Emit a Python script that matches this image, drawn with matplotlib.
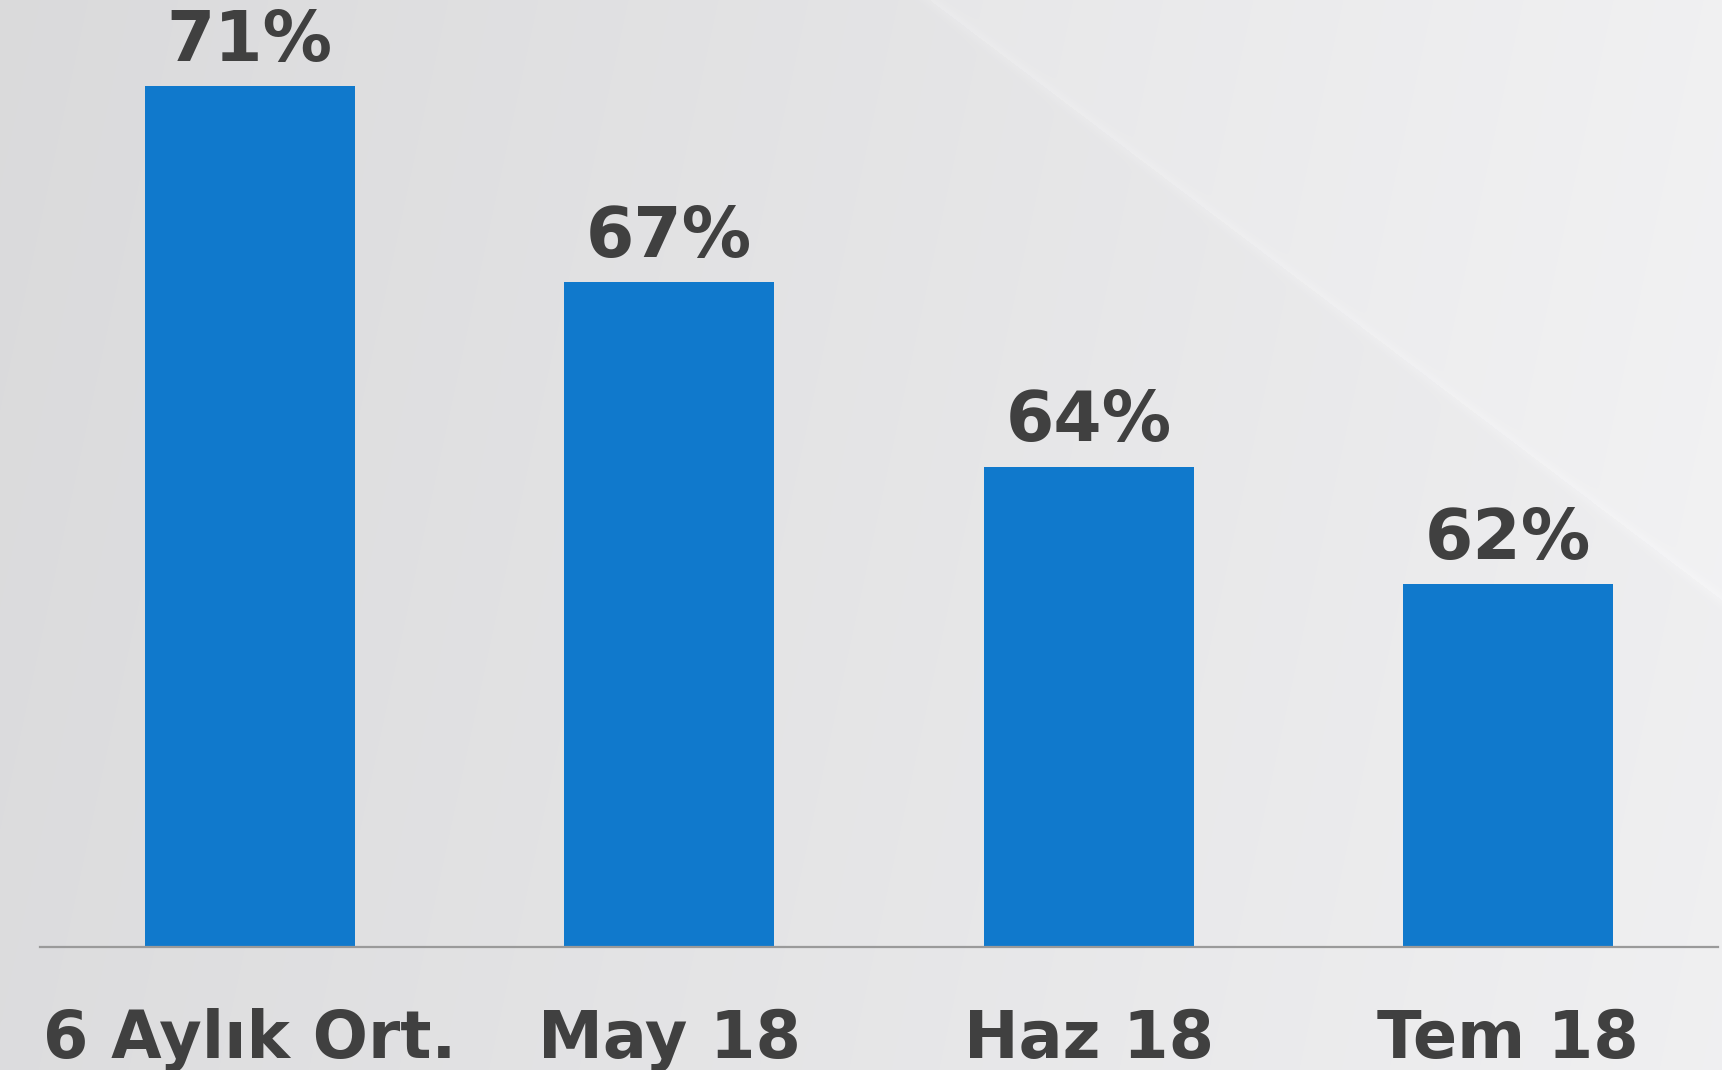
import matplotlib.pyplot as plt
import numpy as np

# Values (labels show the rounded percentages)
categories = ["6 Aylık Ort.", "May 18", "Haz 18", "Tem 18"]
values = [70.7, 67.2, 63.9, 61.8]

BAR_COLOR = "#1079cc"
TEXT_COLOR = "#404040"

W, H = 1722, 1070
fig = plt.figure(figsize=(W / 100, H / 100), dpi=100)

# Soft gray background with a diagonal light streak
bg = fig.add_axes([0, 0, 1, 1])
bg.set_axis_off()
yy, xx = np.mgrid[0:H, 0:W]
base = 0.855 + 0.075 * (xx / W) + 0.01 * (yy / H)
# diagonal line from (930, 0) to (1722, 600)
d = (yy - (xx - 930) * 600 / 792) / np.hypot(1, 600 / 792)
base = base + np.where(d < 0, 0.012, 0.0) + 0.012 * np.exp(-(d / 6) ** 2)
img = np.clip(np.dstack([base, base, base + 0.006]), 0, 1)
bg.imshow(img, extent=[0, W, H, 0], aspect="auto")
bg.set_xlim(0, W)
bg.set_ylim(H, 0)

ax = fig.add_axes([40 / W, 123 / H, (1718 - 40) / W, 947 / H])
ax.patch.set_visible(False)
x = np.arange(len(categories))
bars = ax.bar(x, values, width=0.5, color=BAR_COLOR, bottom=0)
ax.set_xlim(-0.5, 3.5)
ax.set_ylim(55.32, 55.32 + 947 / 56)

for rect, v in zip(bars, values):
    ax.annotate(
        f"{round(v)}%",
        (rect.get_x() + rect.get_width() / 2, v),
        xytext=(0, 8),
        textcoords="offset points",
        ha="center",
        va="bottom",
        fontsize=50,
        fontweight="bold",
        color=TEXT_COLOR,
    )

for side in ["left", "right", "top"]:
    ax.spines[side].set_visible(False)
ax.spines["bottom"].set_color("#9a9a9a")
ax.spines["bottom"].set_linewidth(1.6)
ax.set_yticks([])
ax.set_xticks(x)
ax.set_xticklabels(categories, fontsize=47, fontweight="bold", color=TEXT_COLOR)
ax.tick_params(axis="x", length=0, pad=44)

fig.savefig("out.png", dpi=100)
